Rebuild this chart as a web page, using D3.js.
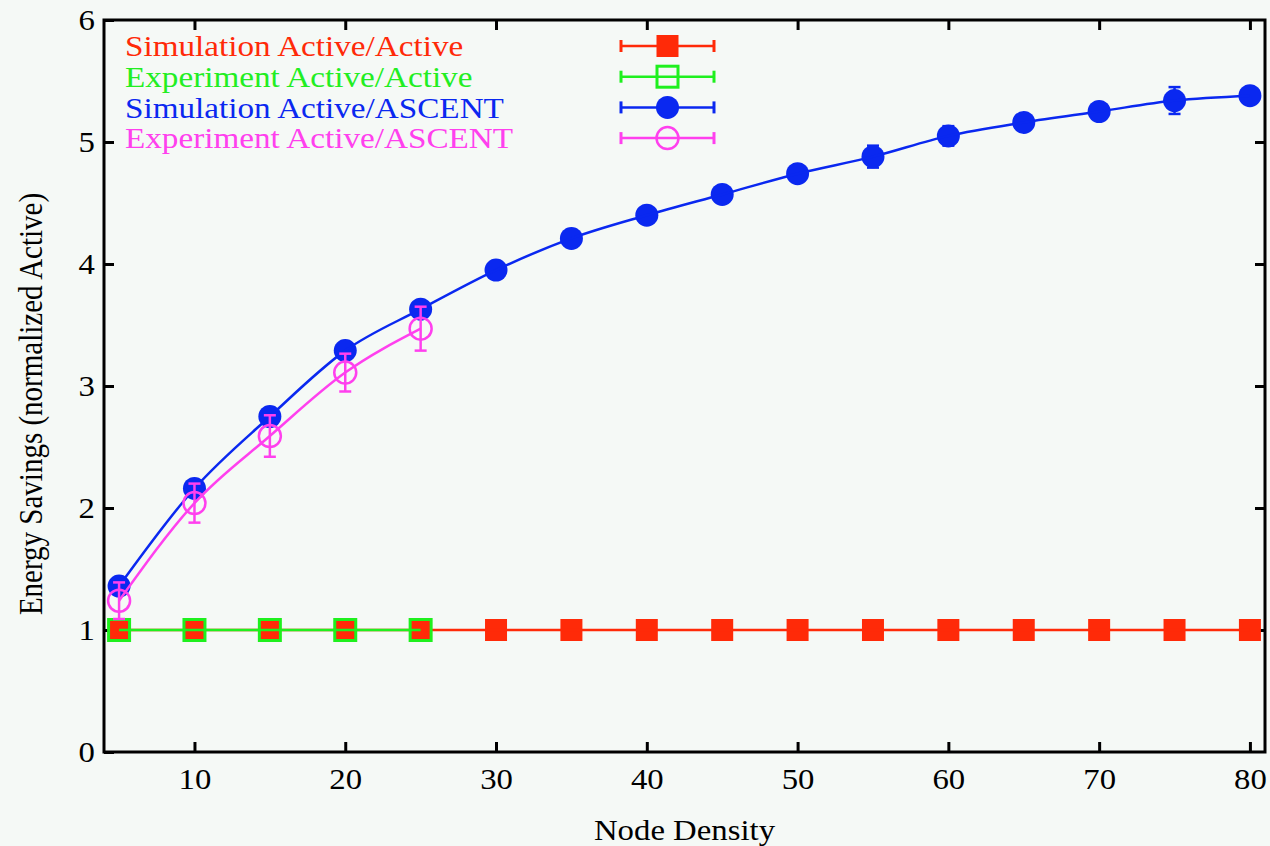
<!DOCTYPE html>
<html>
<head>
<meta charset="utf-8">
<script src="https://cdn.jsdelivr.net/npm/d3@7"></script>
<style>
  body { margin: 0; background: #f5f9f6; }
  text { font-family: "Liberation Serif", "DejaVu Serif", serif; }
</style>
</head>
<body>
<div id="chart"></div>
<script>
// node densities
var xSim = [5, 10, 15, 20, 25, 30, 35, 40, 45, 50, 55, 60, 65, 70, 75, 80];
var xExp = [5, 10, 15, 20, 25];

// Simulation Active/Active
var simActive = [1, 1, 1, 1, 1, 1, 1, 1, 1, 1, 1, 1, 1, 1, 1, 1];
var simActiveErr = [0, 0, 0, 0, 0, 0, 0, 0, 0, 0, 0, 0, 0, 0, 0, 0];
// Experiment Active/Active
var expActive = [1, 1, 1, 1, 1];
var expActiveErr = [0, 0, 0, 0, 0];
// Simulation Active/ASCENT
var simAscent = [1.36, 2.16, 2.75, 3.29, 3.63, 3.95, 4.21, 4.40, 4.57, 4.74, 4.88, 5.05, 5.16, 5.25, 5.34, 5.38];
var simAscentErr = [0.05, 0.06, 0.07, 0.03, 0.04, 0.03, 0.07, 0.04, 0.04, 0.04, 0.09, 0.08, 0.04, 0.03, 0.11, 0.03];
// Experiment Active/ASCENT
var expAscent = [1.24, 2.04, 2.59, 3.11, 3.47];
var expAscentErr = [0.15, 0.16, 0.17, 0.155, 0.18];

var xTicks = [10, 20, 30, 40, 50, 60, 70, 80];
var yTicks = [0, 1, 2, 3, 4, 5, 6];

var W = 1270, H = 846;
var margin = { top: 20, right: 5, bottom: 94, left: 104 };
var width = W - margin.left - margin.right;
var height = H - margin.top - margin.bottom;
var stretch = 1.13; // the glyphs in the picture are a bit wider than Liberation Serif

var svg = d3.select('#chart').append('svg')
    .attr('width', W)
    .attr('height', H);

svg.append('rect').attr('width', W).attr('height', H).attr('fill', '#f5f9f6');

var chart = svg.append('g')
    .attr('transform', 'translate(' + margin.left + ',' + margin.top + ')');

///////////////////////
// Scales
var x = d3.scaleLinear().domain([4, 81]).range([0, width]);
var y = d3.scaleLinear().domain([0, 6]).range([height, 0]);

///////////////////////
// Axes (gnuplot style: ticks inside, mirrored)
var tick = 10;
function styleTicks(g) {
  g.select('.domain').remove();
  g.selectAll('line').attr('stroke', '#000').attr('stroke-width', 3);
  g.selectAll('text').attr('font-size', 29).attr('fill', '#000')
    .attr('font-family', '"Liberation Serif", serif')
    .attr('transform', 'scale(' + stretch + ',1)');
}
chart.append('g')
    .attr('transform', 'translate(0,' + height + ')')
    .call(d3.axisBottom(x).tickValues(xTicks).tickSizeInner(-tick).tickSizeOuter(0).tickPadding(16))
    .call(styleTicks);
chart.append('g')
    .call(d3.axisTop(x).tickValues(xTicks).tickSizeInner(-tick).tickSizeOuter(0).tickFormat(''))
    .call(styleTicks);
chart.append('g')
    .call(d3.axisLeft(y).tickValues(yTicks).tickFormat(d3.format('d')).tickSizeInner(-tick).tickSizeOuter(0).tickPadding(8))
    .call(styleTicks);
chart.append('g')
    .attr('transform', 'translate(' + width + ',0)')
    .call(d3.axisRight(y).tickValues(yTicks.slice(1, 6)).tickSizeInner(-tick).tickSizeOuter(0).tickFormat(''))
    .call(styleTicks);

chart.append('rect')
    .attr('width', width).attr('height', height)
    .attr('fill', 'none').attr('stroke', '#000').attr('stroke-width', 3);

// axis titles
svg.append('text')
    .attr('transform', 'translate(' + (margin.left + width / 2) + ',840) scale(' + stretch + ',1)')
    .attr('text-anchor', 'middle').attr('font-size', 29)
    .text('Node Density');
svg.append('text')
    .attr('transform', 'translate(42,' + 404 + ') rotate(-90) scale(1,' + stretch + ')')
    .attr('text-anchor', 'middle').attr('font-size', 29)
    .text('Energy Savings (normalized Active)');

///////////////////////
// Series
var series = [
  { name: 'Simulation Active/Active', xs: xSim, ys: simActive, err: simActiveErr, color: '#ff2a08', shape: 'square', filled: true },
  { name: 'Experiment Active/Active', xs: xExp, ys: expActive, err: expActiveErr, color: '#1ef01e', shape: 'square', filled: false },
  { name: 'Simulation Active/ASCENT', xs: xSim, ys: simAscent, err: simAscentErr, color: '#0a28f0', shape: 'circle', filled: true },
  { name: 'Experiment Active/ASCENT', xs: xExp, ys: expAscent, err: expAscentErr, color: '#ff40ee', shape: 'circle', filled: false }
];

var line = d3.line()
    .x(function(d) { return x(d.x); })
    .y(function(d) { return y(d.y); })
    .curve(d3.curveMonotoneX);

function drawMarker(g, s, cx, cy) {
  if (s.shape === 'square') {
    var sz = s.filled ? 22 : 21;
    g.append('rect')
      .attr('x', cx - sz / 2).attr('y', cy - sz / 2)
      .attr('width', sz).attr('height', sz)
      .attr('fill', s.filled ? s.color : 'none')
      .attr('stroke', s.filled ? 'none' : s.color)
      .attr('stroke-width', 3);
  } else {
    g.append('circle')
      .attr('cx', cx).attr('cy', cy)
      .attr('r', s.filled ? 11.5 : 11)
      .attr('fill', s.filled ? s.color : 'none')
      .attr('stroke', s.filled ? 'none' : s.color)
      .attr('stroke-width', 2.5);
  }
}

series.forEach(function(s) {
  var pts = s.xs.map(function(v, i) { return { x: v, y: s.ys[i], e: s.err[i] }; });
  var g = chart.append('g');

  // error bars
  pts.forEach(function(d) {
    if (d.e <= 0) return;
    var cx = x(d.x), y0 = y(d.y - d.e), y1 = y(d.y + d.e);
    g.append('line').attr('x1', cx).attr('x2', cx).attr('y1', y0).attr('y2', y1)
      .attr('stroke', s.color).attr('stroke-width', 2.5);
    [y0, y1].forEach(function(yy) {
      g.append('line').attr('x1', cx - 6).attr('x2', cx + 6).attr('y1', yy).attr('y2', yy)
        .attr('stroke', s.color).attr('stroke-width', 2.5);
    });
  });

  pts.forEach(function(d) { drawMarker(g, s, x(d.x), y(d.y)); });

  g.append('path')
    .datum(pts)
    .attr('fill', 'none')
    .attr('stroke', s.color)
    .attr('stroke-width', 2.5)
    .attr('d', line);
});

///////////////////////
// Legend
var legend = chart.append('g');
series.forEach(function(s, i) {
  var ly = 26 + i * 30.7;
  legend.append('text')
    .attr('transform', 'translate(21,' + ly + ') scale(1.145,1)')
    .attr('dy', '0.35em')
    .attr('font-size', 29)
    .attr('fill', s.color === '#1ef01e' ? '#22ee22' : s.color)
    .text(s.name);
  var x0 = 517, x1 = 610;
  legend.append('line').attr('x1', x0).attr('x2', x1).attr('y1', ly).attr('y2', ly)
    .attr('stroke', s.color).attr('stroke-width', 2.5);
  [x0, x1].forEach(function(xx) {
    legend.append('line').attr('x1', xx).attr('x2', xx).attr('y1', ly - 6).attr('y2', ly + 6)
      .attr('stroke', s.color).attr('stroke-width', 3);
  });
  drawMarker(legend, s, (x0 + x1) / 2, ly);
});
</script>
</body>
</html>
